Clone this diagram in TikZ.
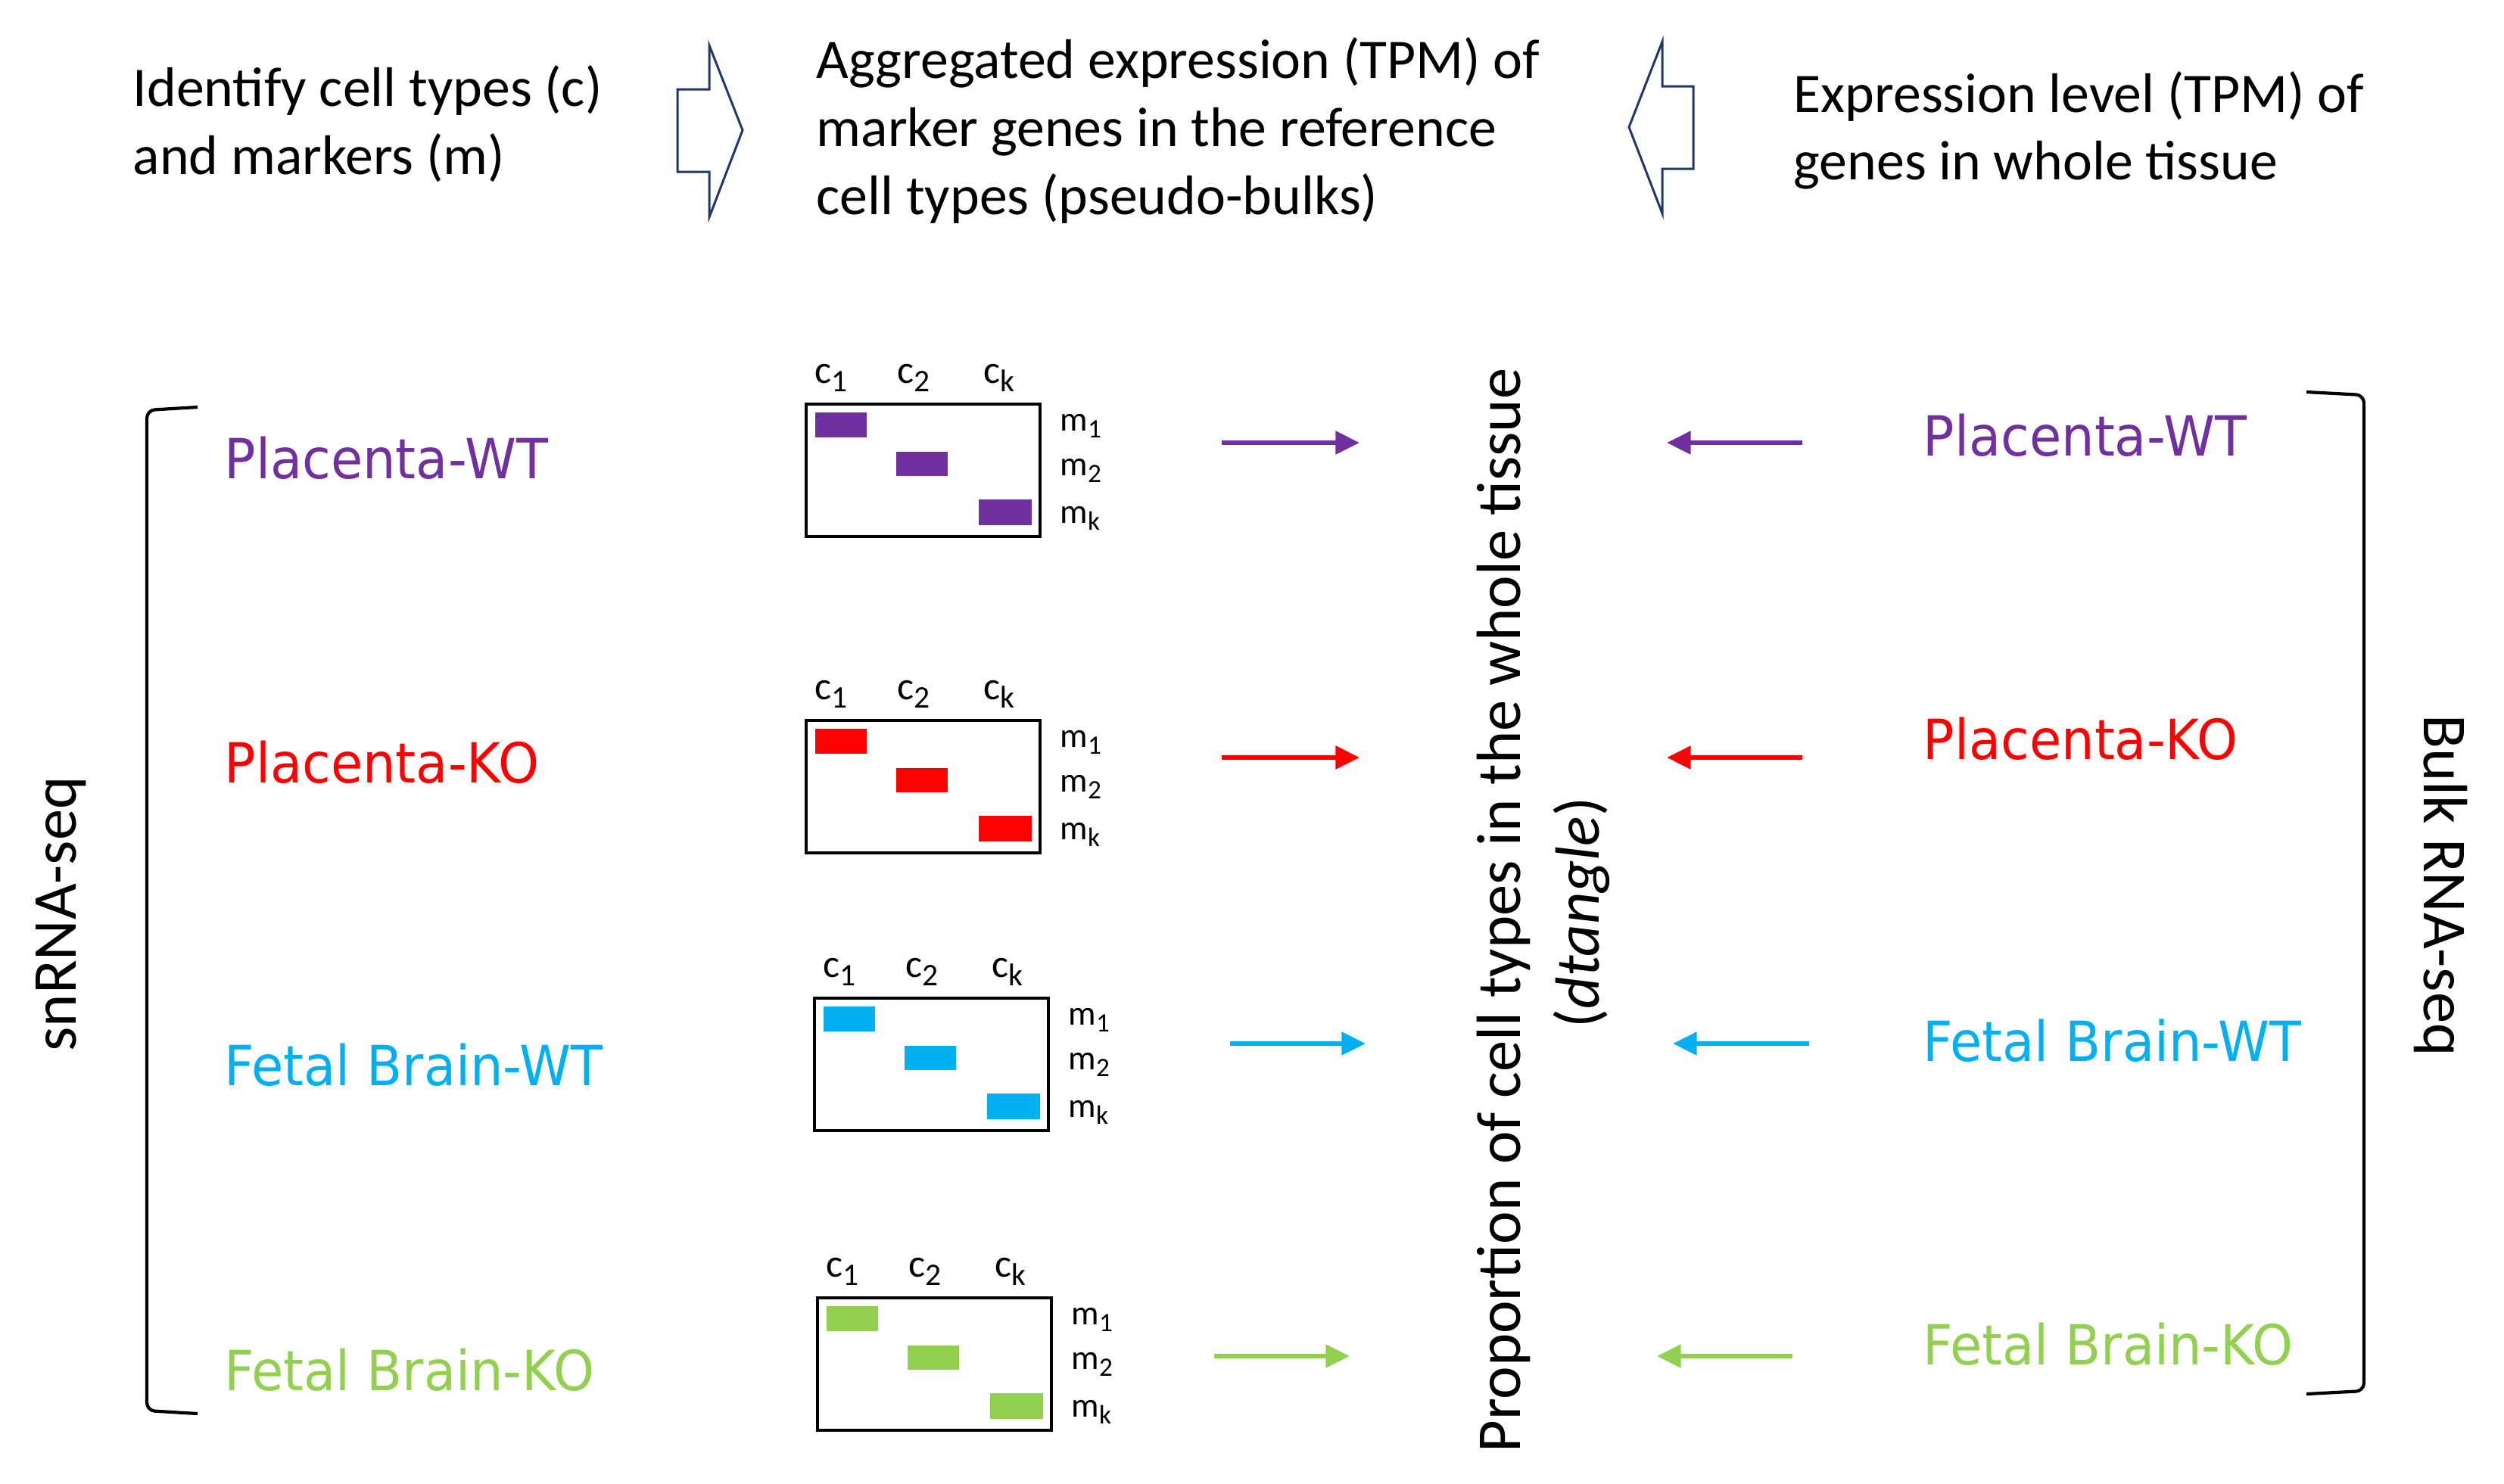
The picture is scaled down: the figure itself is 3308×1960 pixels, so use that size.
\documentclass[tikz,border=0pt]{standalone}
\usepackage{fontspec}
\setmainfont{Carlito}
\newfontfamily\labfont[FakeStretch=0.94]{DejaVu Sans}
\usetikzlibrary{arrows.meta}
\definecolor{cpurple}{HTML}{7030A0}
\definecolor{cred}{HTML}{FF0000}
\definecolor{ccyan}{HTML}{00B0F0}
\definecolor{cgreen}{HTML}{92D050}
\definecolor{navyblue}{HTML}{203864}
\newcommand{\csubx}[1]{\raisebox{-3.4pt}{\fontsize{11.8}{12}\selectfont #1}}
\newcommand{\msubx}[1]{\raisebox{-2.8pt}{\fontsize{10}{11}\selectfont #1}}
\tikzset{
  toptext/.style={anchor=base west, inner sep=0pt, font=\fontsize{21}{25.6}\selectfont},
  vtext/.style={anchor=base, inner sep=0pt, font=\fontsize{23.5}{29.6}\selectfont},
  lab/.style={anchor=base west, inner sep=0pt, font=\labfont\fontsize{20.8}{24}\selectfont},
  clab/.style={anchor=base west, inner sep=0pt, font=\fontsize{14.8}{16}\selectfont},
  mlab/.style={anchor=base west, inner sep=0pt, font=\fontsize{13}{15}\selectfont},
  mbox/.style={draw=black, line width=1.1pt, anchor=north west, inner sep=0pt, minimum width=30.9mm, minimum height=17.5mm},
  blockarrow/.style={draw=navyblue, line width=0.85pt, fill=white, line join=miter},
  carrow/.style={line width=1.6pt, -{Triangle[length=9pt,width=8.5pt]}},
  brk/.style={draw=black, line width=1.2pt, rounded corners=3pt}
}
\newcommand{\mblock}[4]{%
\begin{scope}[shift={(#2,#3)}]
  \node[mbox] (box#1) at (0,0) {};
  \fill[#4] (14,13) rectangle (82,46);
  \fill[#4] (121,65) rectangle (189,97);
  \fill[#4] (230,128) rectangle (300,162);
  \node[clab] (c1#1) at (13,-26) {c\csubx{1}};
  \node[clab] (c2#1) at (122,-26) {c\csubx{2}};
  \node[clab] (ck#1) at (236,-26) {c\csubx{k}};
  \node[mlab] (m1#1) at (337,37) {m\msubx{1}};
  \node[mlab] (m2#1) at (337,96) {m\msubx{2}};
  \node[mlab] (mk#1) at (337,159) {m\msubx{k}};
\end{scope}}
\begin{document}
\begin{tikzpicture}[x=0.1mm,y=-0.1mm]
\useasboundingbox (0,0) rectangle (3308,1960);
\fill[white] (0,0) rectangle (3308,1960);

% top texts
\node[toptext] (id1) at (175,140) {Identify cell types (c)};
\node[toptext] (id2) at (175,230) {and markers (m)};
\node[toptext] (ag1) at (1078,103) {Aggregated expression (TPM) of};
\node[toptext] (ag2) at (1078,193) {marker genes in the reference};
\node[toptext] (ag3) at (1078,283) {cell types (pseudo-bulks)};
\node[toptext] (ex1) at (2369,148) {Expression level (TPM) of};
\node[toptext] (ex2) at (2369,237) {genes in whole tissue};

% block arrows
\draw[blockarrow] (895,118) -- (937,118) -- (937,60) -- (981,172) -- (937,287) -- (937,227) -- (895,227) -- cycle;
\draw[blockarrow] (2237,114) -- (2196,114) -- (2196,55) -- (2152,168) -- (2196,282) -- (2196,223) -- (2237,223) -- cycle;

% brackets
\draw[brk] (261,538) -- (194,542) -- (194,1864) -- (261,1868);
\draw[brk] (3047,518) -- (3123,522) -- (3123,1838) -- (3047,1842);

% side labels
\node[vtext, rotate=90] (sn) at (100,1208) {snRNA-seq};
\node[vtext, rotate=-90] (bulk) at (3202,1170) {Bulk RNA-seq};

% left labels
\node[lab, text=cpurple] (lpwt) at (296,632) {Placenta-WT};
\node[lab, text=cred] (lpko) at (296,1034) {Placenta-KO};
\node[lab, text=ccyan] (lfwt) at (296,1434) {Fetal Brain-WT};
\node[lab, text=cgreen] (lfko) at (296,1837) {Fetal Brain-KO};

% right labels
\node[lab, text=cpurple] (rpwt) at (2540,602) {Placenta-WT};
\node[lab, text=cred] (rpko) at (2540,1003) {Placenta-KO};
\node[lab, text=ccyan] (rfwt) at (2540,1402) {Fetal Brain-WT};
\node[lab, text=cgreen] (rfko) at (2540,1803) {Fetal Brain-KO};

% matrices
\mblock{a}{1063}{532}{cpurple}
\mblock{b}{1063}{950}{cred}
\mblock{c}{1074}{1317}{ccyan}
\mblock{d}{1078}{1713}{cgreen}

% centre text
\node[vtext, rotate=90] (prop) at (2008,1203) {Proportion of cell types in the whole tissue};
\node[vtext, rotate=90] (dtg) at (2112,1206) {(\textit{dtangle})};

% arrows
\coordinate (la1) at (1614,585); \coordinate (la1e) at (1796,585);
\coordinate (la2) at (1614,1001); \coordinate (la2e) at (1796,1001);
\coordinate (la3) at (1625,1379); \coordinate (la3e) at (1804,1379);
\coordinate (la4) at (1604,1792); \coordinate (la4e) at (1783,1792);
\coordinate (ra1) at (2381,585); \coordinate (ra1e) at (2202,585);
\coordinate (ra2) at (2381,1001); \coordinate (ra2e) at (2202,1001);
\coordinate (ra3) at (2390,1379); \coordinate (ra3e) at (2210,1379);
\coordinate (ra4) at (2368,1792); \coordinate (ra4e) at (2189,1792);
\draw[carrow, cpurple] (la1) -- (la1e);
\draw[carrow, cred] (la2) -- (la2e);
\draw[carrow, ccyan] (la3) -- (la3e);
\draw[carrow, cgreen] (la4) -- (la4e);
\draw[carrow, cpurple] (ra1) -- (ra1e);
\draw[carrow, cred] (ra2) -- (ra2e);
\draw[carrow, ccyan] (ra3) -- (ra3e);
\draw[carrow, cgreen] (ra4) -- (ra4e);
\end{tikzpicture}
\end{document}
